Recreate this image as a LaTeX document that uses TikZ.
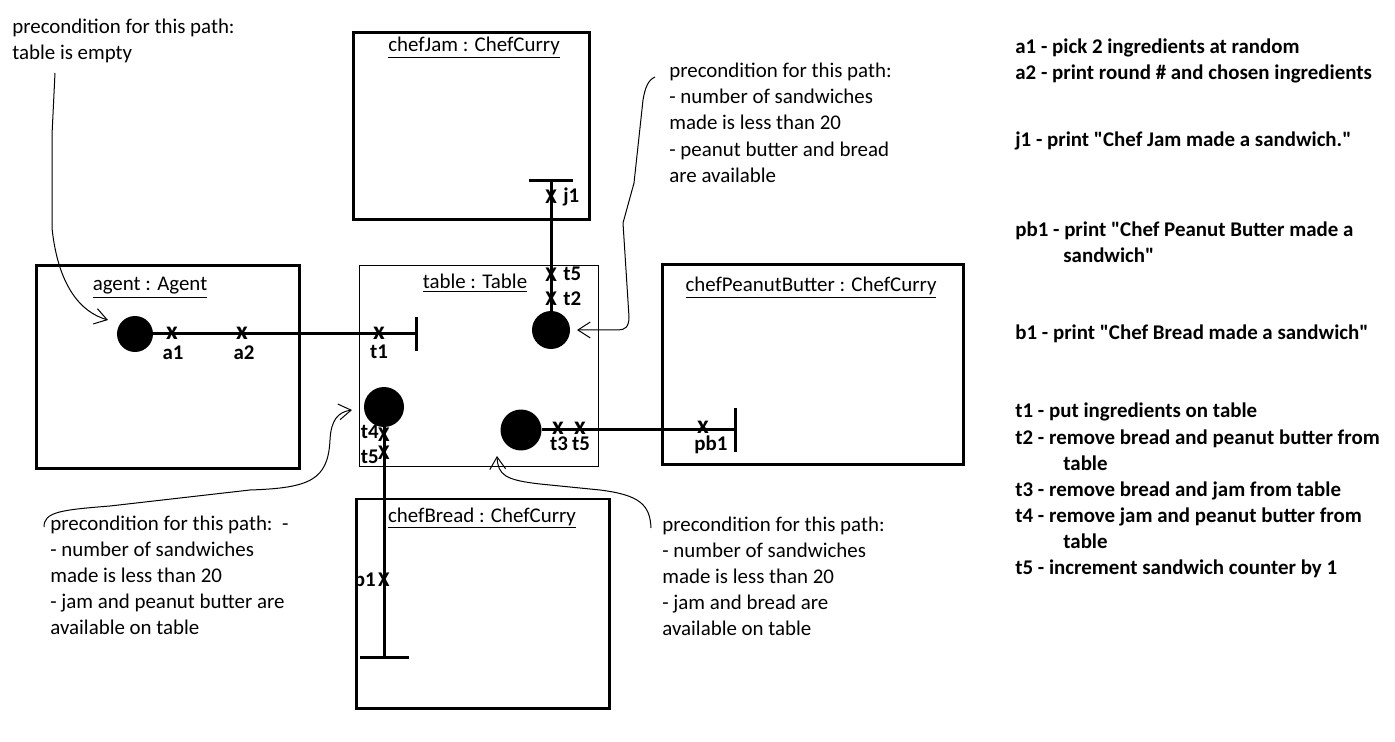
\documentclass[tikz,border=0pt]{standalone}
\usepackage{fontspec}
\setmainfont{Carlito}
\usetikzlibrary{arrows.meta,positioning,fit}

\newcommand{\lines}[1]{\begin{tabular}[t]{@{}l@{}}#1\end{tabular}}
\newcommand{\qt}{\textquotedbl}

\begin{document}
\begin{tikzpicture}[x=0.02cm,y=-0.02cm,
    font=\fontsize{11.9}{14.8}\selectfont,
    obj/.style={draw,line width=0.06cm,inner sep=0pt},
    tbl/.style={draw,line width=0.02cm,inner sep=0pt},
    title/.style={anchor=base,inner sep=0pt},
    dot/.style={circle,fill,inner sep=0pt,minimum size=#1},
    flow/.style={line width=0.06cm},
    bar/.style={flow,-{Bar[width=#1]}},
    xm/.style={inner sep=0pt,font=\fontsize{11.9}{14.8}\selectfont\bfseries},
    xs/.style={inner sep=0pt,font=\fontsize{14.5}{16}\selectfont\bfseries},
    lbl/.style={anchor=base,inner sep=0pt,font=\fontsize{11.9}{14.8}\selectfont\bfseries},
    note/.style={anchor=base west,inner sep=0pt},
    key/.style={anchor=base west,inner sep=0pt,font=\fontsize{11.9}{14.8}\selectfont\bfseries},
    hint/.style={line width=0.02cm,-{Straight Barb[length=7pt,width=9pt]}}]
\useasboundingbox (0,0) rectangle (1395,742);

% objects
\node[obj,fit={(36,266) (299,469)}] (agentBox) {};
\node[obj,fit={(353,33) (589,220)}] (jamBox) {};
\node[tbl,fit={(359,266) (598,467)}] (tableBox) {};
\node[obj,fit={(662,265) (963,465)}] (pbBox) {};
\node[obj,fit={(356,499) (609,708)}] (breadBox) {};

\node[title] (agentTitle) at (150,291) {\underline{agent : Agent}};
\node[title] (jamTitle) at (474,52) {\underline{chefJam : ChefCurry}};
\node[title] (tableTitle) at (475,289) {\underline{table : Table}};
\node[title] (pbTitle) at (811,292) {\underline{chefPeanutButter : ChefCurry}};
\node[title] (breadTitle) at (482,522) {\underline{chefBread : ChefCurry}};

% start points and paths
\node[dot=0.72cm] (dotAgent) at (135,334) {};
\node[dot=0.76cm] (dotJam) at (551,330) {};
\node[dot=0.8cm] (dotBread) at (384,407) {};
\node[dot=0.82cm] (dotPB) at (521,430) {};

\coordinate (endAgent) at (418,334);
\coordinate (endJam) at (551,179);
\coordinate (endBread) at (384,659);
\coordinate (endPB) at (737,430);

\draw[bar=0.68cm] (dotAgent) -- (endAgent);
\draw[bar=0.88cm] (dotJam) -- (endJam);
\draw[bar=0.98cm] (dotBread) -- (endBread);
\draw[bar=0.88cm] (dotPB) -- (endPB);

% responsibilities
\node[xs] (xa1) at (172,333) {x};
\node[xs] (xa2) at (242,333) {x};
\node[xs] (xt1) at (379,333) {x};
\node[xm] (xj1) at (551,197) {X};
\node[xm] (xt5a) at (551,275) {X};
\node[xm] (xt2) at (551,299) {X};
\node[xm] (xt4) at (384,435) {X};
\node[xm] (xt5b) at (384,453) {X};
\node[xm] (xb1) at (384,580) {X};
\node[xs] (xt3) at (558,428) {x};
\node[xs] (xt5c) at (580,428) {x};
\node[xs] (xpb1) at (703,427) {x};

\node[lbl] (la1) at (173,360) {a1};
\node[lbl] (la2) at (244,360) {a2};
\node[lbl] (lt1) at (379,359) {t1};
\node[lbl,anchor=base west] (lj1) at (563,203) {j1};
\node[lbl,anchor=base west] (lt5a) at (563,281) {t5};
\node[lbl,anchor=base west] (lt2) at (563,306) {t2};
\node[lbl,anchor=base east] (lt4) at (379,439) {t4};
\node[lbl,anchor=base east] (lt5b) at (379,464) {t5};
\node[lbl,anchor=base east] (lb1) at (376,586) {b1};
\node[lbl] (lt3) at (559,451) {t3};
\node[lbl] (lt5c) at (581,451) {t5};
\node[lbl] (lpb1) at (711,451) {pb1};

% preconditions
\node[note] (note1) at (12,34) {\lines{precondition for this path:\\table is empty}};
\node[note] (note2) at (669,78) {\lines{precondition for this path:\\- number of sandwiches\\made is less than 20\\- peanut butter and bread\\are available}};
\node[note] (note3) at (50,530) {\lines{precondition for this path:\ \ -\\- number of sandwiches\\made is less than 20\\- jam and peanut butter are\\available on table}};
\node[note] (note4) at (662,531) {\lines{precondition for this path:\\- number of sandwiches\\made is less than 20\\- jam and bread are\\available on table}};

\coordinate (h1s) at (55,73);   \coordinate (h1e) at (108,320);
\coordinate (h2s) at (655,77);  \coordinate (h2e) at (577,330);
\coordinate (h3s) at (44,527);  \coordinate (h3e) at (352,410);
\coordinate (h4s) at (651,528); \coordinate (h4e) at (497,456);

\draw[hint] (h1s) -- (52,135) -- (52,228) .. controls (58,285) and (80,312) .. (h1e);
\draw[hint] (h2s) .. controls (648,80) and (645,88) .. (643,100) -- (634,183) -- (623,223)
    -- (629,317) .. controls (629,327) and (625,330) .. (618,330) -- (h2e);
\draw[hint] (h3s) .. controls (44,512) and (60,510) .. (110,506) -- (180,498) -- (250,490)
    .. controls (310,488) and (328,480) .. (330,440) .. controls (331,420) and (338,412) .. (h3e);
\draw[hint] (h4s) .. controls (650,505) and (640,495) .. (600,490) -- (540,484)
    .. controls (505,480) and (498,475) .. (h4e);

% legend
\node[key] (keyA) at (1015,54) {\lines{a1 - pick 2 ingredients at random\\a2 - print round \# and chosen ingredients}};
\node[key] (keyJ) at (1015,147) {j1 - print \qt Chef Jam made a sandwich.\qt};
\node[key] (keyPB) at (1015,237) {\lines{pb1 - print \qt Chef Peanut Butter made a\\\hspace*{0.96cm}sandwich\qt}};
\node[key] (keyB) at (1015,340) {b1 - print \qt Chef Bread made a sandwich\qt};
\node[key] (keyT) at (1015,418) {\lines{t1 - put ingredients on table\\t2 - remove bread and peanut butter from\\\hspace*{0.96cm}table\\t3 - remove bread and jam from table\\t4 - remove jam and peanut butter from\\\hspace*{0.96cm}table\\t5 - increment sandwich counter by 1}};
\end{tikzpicture}
\end{document}
